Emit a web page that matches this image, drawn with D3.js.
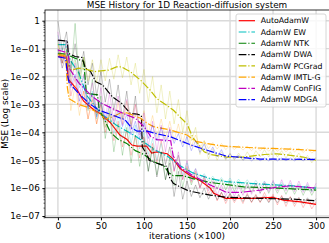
<!DOCTYPE html>
<html>
<head>
<meta charset="utf-8">
<script src="https://cdn.jsdelivr.net/npm/d3@7"></script>
<style>
  body { margin: 0; background: #fff; }
  svg { display: block; font-family: "DejaVu Sans", sans-serif; }
</style>
</head>
<body>
<div id="chart"></div>
<script>
// methods, in legend order
const methods = ["AutoAdamW", "AdamW EW", "AdamW NTK", "AdamW DWA", "AdamW PCGrad", "AdamW IMTL-G", "AdamW ConFIG", "AdamW MDGA"];
const colors = ["#ff0000", "#00bfbf", "#008000", "#000000", "#bfbf00", "#ffa500", "#bf00bf", "#0000ff"];

const xTicks = [0, 50, 100, 150, 200, 250, 300];
const yTicks = [1, 1e-1, 1e-2, 1e-3, 1e-4, 1e-5, 1e-6, 1e-7];
const yTickLabels = ["1", "1e\u221201", "1e\u221202", "1e\u221203", "1e\u221204", "1e\u221205", "1e\u221206", "1e\u221207"];

// smoothed curves, [iterations (x100), MSE]
const autoSmooth = [[0,5.1e-2],[10,5e-2],[12,8e-3],[22,3.5e-3],[30,1.3e-3],[42,6.3e-4],[50,4.5e-4],[61,2.2e-4],[72,8e-5],[80,5.6e-5],[86,3.5e-5],[92,3.2e-5],[103,3.2e-5],[109,1.8e-5],[115,2e-5],[127,1.7e-5],[134,1.1e-5],[142,5e-6],[154,2.8e-6],[166,1.8e-6],[177,1e-6],[181,6.5e-7],[195,4.3e-7],[227,4.3e-7],[249,4.7e-7],[262,3.7e-7],[282,3.2e-7],[300,2.6e-7]];
const ewSmooth = [[0,1.4e-1],[9,1.4e-1],[11,6.3e-2],[16,3.2e-2],[24,1.4e-2],[34,2e-3],[49,5e-4],[68,1.8e-4],[88,8e-5],[100,4.5e-5],[111,2.5e-5],[127,1.4e-5],[142,6.3e-6],[157,3.5e-6],[177,2.2e-6],[196,1.7e-6],[235,1.4e-6],[274,1.2e-6],[300,1e-6]];
const ntkSmooth = [[0,6.8e-2],[10,6.3e-2],[20,4.5e-2],[30,3.5e-2],[33,2.5e-3],[46,2.2e-3],[48,6.3e-4],[55,2.5e-4],[61,1e-4],[70,5.6e-5],[80,4e-5],[90,2.2e-5],[100,1.6e-5],[111,8.9e-6],[123,6.3e-6],[129,3.5e-6],[134,2.8e-6],[145,2.8e-6],[157,2.2e-6],[177,1.6e-6],[216,1.1e-6],[255,1e-6],[300,8.5e-7]];
const dwaSmooth = [[0,2e-1],[8,1.9e-1],[11,1.8e-1],[12,6.8e-2],[20,5.2e-2],[28,4.8e-2],[32,2e-2],[38,1.5e-2],[44,6.5e-3],[52,5e-3],[63,1.9e-3],[74,1.1e-3],[84,4.8e-4],[92,4.5e-4],[97,4e-4],[98,3e-5],[104,1.5e-5],[106,1e-5],[115,7.8e-6],[127,5.9e-6],[129,2.6e-6],[134,1.5e-6],[142,1.1e-6],[150,8.5e-7],[157,7.4e-7],[166,6.5e-7],[177,5.6e-7],[196,4.7e-7],[235,4.3e-7],[274,4e-7],[300,3.5e-7]];
const pcgradSmooth = [[0,6.3e-2],[9,5.6e-2],[12,2.5e-2],[16,1.7e-2],[24,2e-2],[33,1.8e-2],[43,1.5e-2],[50,1.6e-2],[59,1.7e-2],[68,2.2e-2],[74,2.2e-2],[84,1.5e-2],[96,7.4e-3],[107,3.3e-3],[115,1.6e-3],[125,1e-3],[134,6.3e-4],[142,3.5e-4],[150,2e-4],[157,6.3e-5],[164,3.5e-5],[170,2e-5],[177,1.6e-5],[196,1.3e-5],[215,1.3e-5],[240,1.6e-5],[255,1.7e-5],[270,1.5e-5],[285,1.3e-5],[300,1e-5]];
const imtlSmooth = [[0,5.9e-2],[9,5.6e-2],[11,4e-3],[13,1.6e-3],[24,1e-3],[34,8e-4],[42,6e-4],[50,4.2e-4],[55,3e-4],[63,3.5e-4],[72,4.8e-4],[80,5e-4],[88,4e-4],[96,3.2e-4],[104,2.1e-4],[111,1.6e-4],[131,1.2e-4],[150,8e-5],[160,4.7e-5],[183,3.5e-5],[198,3.1e-5],[237,2.7e-5],[270,2.5e-5],[300,2.2e-5]];
const configSmooth = [[0,8.9e-2],[8,7.6e-2],[12,6.3e-2],[14,1.8e-2],[24,6e-3],[40,1.9e-3],[51,1.1e-3],[63,7.2e-4],[80,4.2e-4],[90,3.2e-4],[100,1.6e-4],[108,7e-5],[115,5.5e-5],[131,5e-5],[134,1.4e-5],[142,5.6e-6],[157,2.8e-6],[177,1.3e-6],[196,7e-7],[212,7e-7],[235,8.5e-7],[255,1.1e-6],[270,1.2e-6],[300,1e-6]];
const mdgaSmooth = [[0,5.1e-2],[9,4.5e-2],[11,1.2e-2],[13,6e-3],[24,2.5e-3],[36,1.1e-3],[47,6.3e-4],[63,4.2e-4],[78,2.8e-4],[86,1.4e-4],[92,1.1e-4],[104,1.1e-4],[111,9.5e-5],[131,6.9e-5],[142,5e-5],[157,3.3e-5],[177,2.1e-5],[196,1.4e-5],[235,1.1e-5],[300,1.07e-5]];

// raw (unsmoothed) histories, sampled at rawX
const rawX = [0,5,10,15,20,25,30,35,40,45, 50,55,60,65,70,75,80,85,90,95, 100,105,110,115,120,125,130,135,140,145,
  150,155,160,165,170,175,180,185,190,195, 200,205,210,215,220,225,230,235,240,245, 250,255,260,265,270,275,280,285,290,295, 300];
const autoRaw = [1e-1,3e-2,8e-2,2e-3,9e-3,8e-4,3e-3,3e-4,1.5e-3,2e-4, 1e-3,1e-4,5e-4,5e-5,2.5e-4,3e-5,1.2e-4,1.5e-5,8e-5,1.2e-5,
  7e-5,1e-5,4e-5,8e-6,5e-5,7e-6,3e-5,4e-6,1.5e-5,2e-6, 6e-6,1.6e-6,4e-6,1e-6,2.2e-6,6e-7,1.2e-6,3.5e-7,7e-7,2.8e-7,
  6e-7,3e-7,5.5e-7,2.8e-7,6.5e-7,3e-7,6e-7,3e-7,7e-7,3.2e-7, 6e-7,2.5e-7,5.5e-7,2.2e-7,5e-7,2.2e-7,4.5e-7,2e-7,4e-7,1.8e-7, 3.2e-7];
const ewRaw = [3e-1,8e-2,2e-1,1.5e-2,5e-2,4e-3,1e-2,8e-4,3e-3,3e-4, 1.2e-3,1.5e-4,6e-4,9e-5,4e-4,6e-5,2.5e-4,4e-5,1.8e-4,2.5e-5,
  1e-4,1.6e-5,6e-5,1e-5,4e-5,7e-6,3e-5,4.5e-6,1.5e-5,3e-6, 8e-6,2.6e-6,5e-6,2.1e-6,3.3e-6,1.8e-6,2.7e-6,1.5e-6,2.4e-6,1.4e-6,
  2.3e-6,1.3e-6,2.1e-6,1.2e-6,2e-6,1.15e-6,1.9e-6,1.1e-6,1.8e-6,1e-6, 1.7e-6,9.5e-7,1.6e-6,9e-7,1.5e-6,8.5e-7,1.4e-6,8e-7,1.35e-6,7.5e-7, 1.2e-6];
const ntkRaw = [2e-1,3e-2,2e-1,1e-2,8e-1,5e-3,5e-2,6e-4,8e-3,4e-4, 2e-3,6e-5,5e-4,2e-5,2e-4,1.5e-5,1.5e-4,8e-6,8e-5,6e-6,
  5e-5,4e-6,3e-5,3e-6,2e-5,2e-6,1.2e-5,1.2e-6,8e-6,1.1e-6, 5e-6,1.3e-6,3.5e-6,1.1e-6,2.6e-6,1e-6,2.3e-6,9e-7,2.1e-6,8.5e-7,
  1.9e-6,7.5e-7,1.7e-6,7e-7,1.6e-6,7e-7,1.5e-6,6.5e-7,1.5e-6,6.5e-7, 1.4e-6,6.5e-7,1.35e-6,6e-7,1.3e-6,6e-7,1.25e-6,5.5e-7,1.2e-6,5.5e-7, 1.1e-6];
const dwaRaw = [1,9e-2,4e-1,2e-2,1.5e-1,1.2e-2,8e-2,5e-3,3e-2,2e-3, 1.5e-2,1.2e-3,8e-3,6e-4,5e-3,3e-4,3e-3,1.5e-4,2e-3,1e-4,
  6e-5,4e-6,3e-5,2.5e-6,2e-5,2e-6,8e-6,5e-7,4e-6,4e-7, 1.8e-6,5e-7,1.3e-6,4.5e-7,1e-6,4e-7,8.5e-7,3.8e-7,7e-7,3.5e-7,
  6.5e-7,3.5e-7,6e-7,3.3e-7,5.8e-7,3.2e-7,5.5e-7,3.2e-7,5.3e-7,3e-7, 5.2e-7,3e-7,5e-7,2.9e-7,4.8e-7,2.8e-7,4.6e-7,2.7e-7,4.5e-7,2.6e-7, 4.2e-7];
const pcgradRaw = [1.5e-1,3e-2,1e-1,6e-3,4e-2,8e-3,5e-2,7e-3,4e-2,6e-3, 4e-2,7e-3,4.5e-2,8e-3,6e-2,9e-3,5e-2,5e-3,3e-2,2.5e-3,
  1.8e-2,1.2e-3,1e-2,5e-4,5e-3,3e-4,3e-3,2e-4,1.5e-3,1e-4, 6e-4,5e-5,1.5e-4,1.6e-5,5e-5,1.1e-5,2.6e-5,1e-5,2e-5,1e-5,
  1.8e-5,1e-5,1.8e-5,1e-5,2e-5,1.1e-5,2.2e-5,1.3e-5,2.4e-5,1.3e-5, 2.4e-5,1.3e-5,2.2e-5,1.2e-5,2e-5,1.1e-5,1.8e-5,1e-5,1.5e-5,8e-6, 1.3e-5];
const imtlRaw = [1.5e-1,2e-2,8e-2,6e-4,5e-3,4e-4,3e-3,3e-4,2e-3,2e-4, 1.2e-3,1.5e-4,8e-4,1.5e-4,1.2e-3,2e-4,1.3e-3,2e-4,1e-3,1.3e-4,
  6e-4,9e-5,4e-4,7e-5,3e-4,6e-5,2.5e-4,5e-5,2e-4,4e-5, 1.5e-4,3e-5,8e-5,2.8e-5,5e-5,2.6e-5,4.3e-5,2.5e-5,4e-5,2.4e-5,
  3.4e-5,2.4e-5,3.3e-5,2.3e-5,3.2e-5,2.2e-5,3.1e-5,2.2e-5,3e-5,2.1e-5, 2.9e-5,2.1e-5,2.8e-5,2e-5,2.8e-5,2e-5,2.7e-5,1.9e-5,2.6e-5,1.8e-5, 2.4e-5];
const configRaw = [4e-1,3e-2,2e-1,5e-3,3e-2,2e-3,1.2e-2,9e-4,6e-3,5e-4, 4e-3,3e-4,2.5e-3,2.5e-4,2e-3,1.8e-4,1.5e-3,1.2e-4,1e-3,8e-5,
  5e-4,3e-5,2.5e-4,2e-5,1.8e-4,2e-5,1.5e-4,4e-6,2e-5,2e-6, 1e-5,1.8e-6,5e-6,1e-6,2.8e-6,8e-7,1.8e-6,5.5e-7,1.3e-6,5e-7,
  1.2e-6,5e-7,1.2e-6,5.5e-7,1.4e-6,6e-7,1.5e-6,6.5e-7,1.7e-6,7.5e-7, 1.9e-6,8e-7,2e-6,8e-7,1.9e-6,7.5e-7,1.8e-6,7e-7,1.6e-6,7e-7, 1.5e-6];
const mdgaRaw = [1e-1,2e-2,6e-2,4e-3,1.2e-2,1.3e-3,5e-3,7e-4,2.5e-3,3.5e-4, 1.2e-3,2.5e-4,9e-4,2e-4,6e-4,1.6e-4,4.5e-4,8e-5,2.5e-4,6e-5,
  2.2e-4,6e-5,1.8e-4,5e-5,1.5e-4,4.5e-5,1.2e-4,4e-5,9e-5,3e-5, 7e-5,2.2e-5,5e-5,1.9e-5,3.8e-5,1.6e-5,3e-5,1.3e-5,2.4e-5,1.1e-5,
  1.7e-5,1.1e-5,1.5e-5,1e-5,1.3e-5,9.5e-6,1.25e-5,9.5e-6,1.2e-5,9.5e-6, 1.2e-5,9.5e-6,1.2e-5,9.5e-6,1.2e-5,9.5e-6,1.2e-5,9.5e-6,1.2e-5,9.5e-6, 1.15e-5];

const smoothSeries = [autoSmooth, ewSmooth, ntkSmooth, dwaSmooth, pcgradSmooth, imtlSmooth, configSmooth, mdgaSmooth];
const rawSeries = [autoRaw, ewRaw, ntkRaw, dwaRaw, pcgradRaw, imtlRaw, configRaw, mdgaRaw];

const width = 329, height = 243;
const plot = {left: 45, right: 329, top: 10, bottom: 217.7};

const svg = d3.select("#chart")
    .append("svg")
    .attr("width", width)
    .attr("height", height);

const x = d3.scaleLinear().domain([-15, 315]).range([plot.left, plot.right]);
const y = d3.scaleLog().domain([8.7e-8, 2.42]).range([plot.bottom, plot.top]);

svg.append("defs").append("clipPath").attr("id", "clip")
    .append("rect")
    .attr("x", plot.left).attr("y", plot.top)
    .attr("width", plot.right - plot.left).attr("height", plot.bottom - plot.top);

// grid
const grid = svg.append("g").attr("stroke", "#dadada").attr("stroke-width", 1.4);
grid.selectAll(".gx").data(xTicks).enter().append("line")
    .attr("x1", d => x(d)).attr("x2", d => x(d))
    .attr("y1", plot.top).attr("y2", plot.bottom);
grid.selectAll(".gy").data(yTicks).enter().append("line")
    .attr("x1", plot.left).attr("x2", plot.right)
    .attr("y1", d => y(d)).attr("y2", d => y(d));

// curves: raw faint line under each smoothed line
const lines = svg.append("g").attr("clip-path", "url(#clip)");
const line = d3.line().x(d => x(d[0])).y(d => y(d[1]));

methods.forEach(function (m, i) {
    const raw = rawSeries[i].map((v, j) => [rawX[j], v]);
    lines.append("path")
        .attr("d", line(raw))
        .attr("fill", "none")
        .attr("stroke", colors[i])
        .attr("stroke-width", 0.9)
        .attr("stroke-opacity", 0.25);
    lines.append("path")
        .attr("d", line(smoothSeries[i]))
        .attr("fill", "none")
        .attr("stroke", colors[i])
        .attr("stroke-width", 1.2)
        .attr("stroke-dasharray", i === 0 ? null : "7.7,1.9,1.2,1.9");
});

// axes
const xAxis = svg.append("g")
    .attr("transform", `translate(0, ${plot.bottom})`)
    .call(d3.axisBottom(x).tickValues(xTicks).tickSize(2.6).tickPadding(2.4));
xAxis.select(".domain").remove();
xAxis.selectAll("text").attr("font-size", 8.8).attr("font-family", "DejaVu Sans").attr("fill", "#000");

const minorTicks = [];
for (let k = -8; k <= 0; k++) {
    for (let s = 2; s <= 9; s++) {
        const v = s * Math.pow(10, k);
        if (v > 8.7e-8 && v < 2.42) minorTicks.push(v);
    }
}
const yMinor = svg.append("g")
    .attr("transform", `translate(${plot.left}, 0)`)
    .call(d3.axisLeft(y).tickValues(minorTicks).tickSize(1.5).tickFormat(""));
yMinor.select(".domain").remove();
yMinor.selectAll("line").attr("stroke-width", 0.6);

const yAxis = svg.append("g")
    .attr("transform", `translate(${plot.left}, 0)`)
    .call(d3.axisLeft(y).tickValues(yTicks).tickSize(2.6).tickPadding(2.6)
        .tickFormat((d, i) => yTickLabels[i]));
yAxis.select(".domain").remove();
yAxis.selectAll("text").attr("font-size", 8.8).attr("font-family", "DejaVu Sans").attr("fill", "#000");

// spines
svg.append("rect")
    .attr("x", plot.left).attr("y", plot.top)
    .attr("width", plot.right - plot.left + 2).attr("height", plot.bottom - plot.top)
    .attr("fill", "none").attr("stroke", "#000").attr("stroke-width", 0.8);

// title and labels
svg.append("text")
    .attr("x", (plot.left + plot.right) / 2).attr("y", 7.6)
    .attr("text-anchor", "middle").attr("font-size", 8.85)
    .text("MSE History for 1D Reaction-diffusion system");
svg.append("text")
    .attr("x", (plot.left + plot.right) / 2).attr("y", 239)
    .attr("text-anchor", "middle").attr("font-size", 8.85)
    .text("iterations (\u00d7100)");
svg.append("text")
    .attr("transform", `translate(8.3, ${(plot.top + plot.bottom) / 2}) rotate(-90)`)
    .attr("text-anchor", "middle").attr("font-size", 8.85)
    .text("MSE (Log scale)");

// legend
const legend = svg.append("g");
legend.append("rect")
    .attr("x", 236).attr("y", 14).attr("width", 90).attr("height", 93).attr("rx", 2)
    .attr("fill", "#fff").attr("fill-opacity", 0.8)
    .attr("stroke", "#cccccc").attr("stroke-width", 0.8);
const rowY = d3.scaleLinear().domain([0, 7]).range([20.7, 99.7]);
methods.forEach(function (m, i) {
    legend.append("line")
        .attr("x1", 238.7).attr("x2", 255)
        .attr("y1", rowY(i)).attr("y2", rowY(i))
        .attr("stroke", colors[i]).attr("stroke-width", 1.2)
        .attr("stroke-dasharray", i === 0 ? null : "7.7,1.9,1.2,1.9");
    legend.append("text")
        .attr("x", 260.7).attr("y", rowY(i))
        .attr("dy", "0.35em").attr("font-size", 7.8)
        .text(m);
});
</script>
</body>
</html>
